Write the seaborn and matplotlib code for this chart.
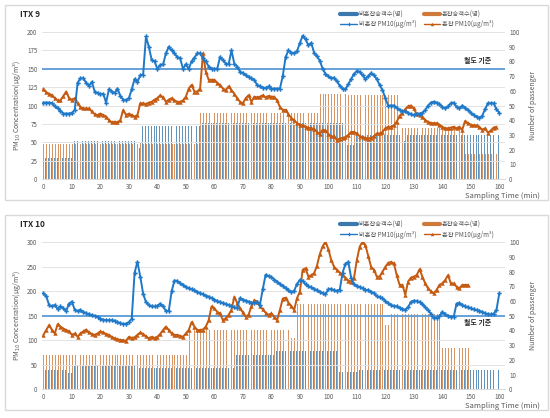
import numpy as np
import pandas as pd
import seaborn as sns
import matplotlib.pyplot as plt
from matplotlib.lines import Line2D
from matplotlib.patches import Rectangle

# ---- data ----
minutes = list(range(0, 161))
threshold = 150  # 철도 기준

# ITX 9 PM10 (ug/m3), one value per minute
itx9_nc_pm = [104, 104, 104, 103, 99, 96, 93, 89, 89, 89, 90, 94, 131, 137, 137, 131, 127, 132, 119, 117,
              115, 116, 104, 122, 119, 117, 123, 113, 108, 107, 110, 122, 136, 132, 141, 142, 194, 180, 162, 160,
              150, 155, 156, 171, 180, 175, 171, 166, 164, 150, 156, 150, 160, 165, 171, 171, 164, 160, 153, 150,
              150, 150, 166, 162, 157, 156, 175, 157, 153, 146, 144, 141, 139, 137, 135, 128, 126, 124, 124, 126,
              123, 123, 123, 123, 140, 166, 175, 172, 171, 174, 185, 195, 190, 182, 185, 172, 167, 161, 150, 143,
              140, 137, 138, 133, 127, 123, 122, 129, 136, 143, 147, 146, 141, 136, 140, 144, 141, 136, 128, 121,
              110, 100, 100, 100, 97, 94, 92, 92, 90, 88, 87, 89, 89, 90, 94, 100, 104, 105, 104, 102,
              98, 96, 99, 103, 104, 98, 96, 100, 97, 94, 90, 87, 85, 83, 86, 95, 103, 103, 103, 95, 90]
itx9_c_pm = [123, 118, 116, 114, 110, 107, 107, 113, 119, 110, 108, 110, 103, 98, 96, 96, 96, 92, 88, 87,
             89, 87, 85, 80, 77, 78, 77, 80, 94, 87, 89, 87, 85, 87, 103, 103, 102, 104, 105, 108,
             110, 114, 111, 105, 108, 110, 107, 105, 105, 107, 112, 123, 128, 119, 119, 123, 171, 146, 135, 135,
             135, 131, 128, 123, 121, 126, 121, 116, 110, 105, 103, 110, 114, 105, 112, 111, 112, 114, 111, 113,
             112, 112, 107, 98, 94, 94, 88, 83, 80, 76, 74, 73, 71, 70, 69, 68, 64, 61, 67, 66,
             61, 58, 58, 53, 55, 56, 57, 60, 64, 64, 62, 58, 57, 56, 55, 56, 58, 62, 62, 64,
             69, 71, 71, 73, 78, 86, 90, 95, 99, 100, 96, 88, 87, 85, 80, 78, 76, 76, 76, 74,
             71, 69, 69, 70, 71, 69, 71, 67, 79, 76, 74, 73, 73, 71, 67, 69, 63, 66, 70, 71]

# ITX 10 PM10 (ug/m3)
itx10_nc_pm = [196, 190, 172, 169, 172, 164, 169, 165, 160, 175, 179, 162, 160, 162, 158, 155, 153, 151, 150, 147,
               144, 142, 141, 141, 141, 140, 137, 135, 133, 134, 137, 144, 238, 260, 230, 195, 178, 172, 169, 169,
               170, 175, 169, 160, 160, 200, 222, 221, 216, 213, 209, 206, 204, 202, 199, 196, 194, 191, 189, 186,
               183, 180, 178, 176, 174, 172, 170, 167, 166, 186, 183, 181, 179, 177, 176, 179, 173, 205, 234, 231,
               229, 224, 220, 215, 211, 206, 203, 198, 201, 215, 223, 221, 214, 210, 208, 205, 202, 199, 196, 194,
               204, 205, 202, 201, 203, 238, 256, 260, 228, 214, 210, 209, 206, 202, 203, 199, 196, 190, 188, 186,
               180, 176, 172, 170, 169, 166, 164, 162, 168, 178, 181, 180, 178, 175, 167, 162, 154, 145, 146, 149,
               158, 153, 149, 148, 148, 175, 176, 172, 169, 167, 165, 163, 162, 160, 158, 155, 153, 153, 154, 162, 196]
itx10_c_pm = [111, 121, 131, 121, 114, 133, 128, 124, 121, 118, 111, 114, 107, 114, 118, 122, 116, 113, 111, 114,
              118, 116, 113, 111, 107, 104, 102, 101, 100, 99, 107, 105, 106, 111, 116, 113, 108, 104, 107, 105,
              107, 113, 121, 128, 121, 114, 111, 111, 109, 107, 114, 121, 137, 128, 121, 121, 122, 128, 141, 169,
              165, 158, 155, 141, 145, 152, 162, 189, 176, 165, 157, 148, 152, 169, 182, 179, 170, 163, 156, 152,
              155, 148, 141, 162, 185, 187, 177, 170, 162, 186, 199, 244, 247, 230, 233, 237, 252, 276, 292, 301,
              286, 264, 250, 244, 238, 233, 228, 222, 220, 227, 264, 291, 301, 294, 272, 250, 244, 230, 230, 240,
              250, 258, 260, 257, 233, 213, 213, 193, 220, 228, 230, 233, 245, 230, 216, 206, 200, 196, 203, 213,
              216, 223, 233, 216, 216, 209, 206, 213, 213, 213]

# passenger counts: level held until (and including) the given minute
itx9_nc_pass_levels = [14, 26, 21, 36, 38, 23, 30, 26, 30]
itx9_nc_pass_until = [10, 32, 34, 55, 106, 109, 125, 127, 160]
itx9_c_pass_levels = [24, 25, 24, 45, 58, 57, 35, 17]
itx9_c_pass_until = [33, 34, 54, 96, 106, 125, 147, 159]
itx10_nc_pass_levels = [13, 11, 16, 11, 14.5, 23, 26, 12, 13]
itx10_nc_pass_until = [8, 10, 32, 33, 67, 81, 103, 110, 160]
itx10_c_pass_levels = [23, 40, 35, 58, 44, 51, 28]
itx10_c_pass_until = [50, 86, 88, 119, 121, 139, 149]

nc_bar_name = "비혼잡승객수(명)"
c_bar_name = "혼잡승객수(명)"
nc_line_name = "비혼잡 PM10(μg/m³)"
c_line_name = "혼잡 PM10(μg/m³)"

blue = "#1f78c8"
orange = "#c55a11"
blue_bar = "#3a78ad"
orange_bar = "#cf7a3c"
ref_blue = "#5b9bd5"
grey = "#595959"


def expand(levels, until):
    counts = np.diff([-1] + until)
    return np.repeat(levels, counts)


def passenger_frame(nc_levels, nc_until, c_levels, c_until):
    nc = expand(nc_levels, nc_until)
    c = expand(c_levels, c_until)
    df_nc = pd.DataFrame({"t": minutes[:len(nc)], "p": nc, "group": nc_bar_name})
    df_c = pd.DataFrame({"t": minutes[:len(c)], "p": c, "group": c_bar_name})
    return pd.concat([df_nc, df_c], ignore_index=True)


sns.set_theme(style="white")
plt.rcParams["font.family"] = ["Noto Sans CJK KR", "DejaVu Sans"]
plt.rcParams["axes.unicode_minus"] = False

fig = plt.figure(figsize=(5.5, 4.18), dpi=100)


def draw_panel(bottom, title, nc_pm, c_pm, bars, ymax, ystep, label_y, label_va):
    axl = fig.add_axes([0.0758, bottom, 0.8424, 0.3516])
    axr = axl.twinx()
    axl.set_zorder(axr.get_zorder() + 1)
    axl.patch.set_visible(False)

    sns.barplot(data=bars, x="t", y="p", hue="group", hue_order=[nc_bar_name, c_bar_name],
                palette=[blue_bar, orange_bar], native_scale=True, width=0.62, saturation=1,
                errorbar=None, legend=False, linewidth=0, alpha=0.8, ax=axr)

    axl.axhline(threshold, color=ref_blue, lw=1.3, zorder=2)
    sns.lineplot(x=minutes[:len(nc_pm)], y=nc_pm, color=blue, lw=1.4, marker="P",
                 markersize=3.2, markeredgewidth=0, ax=axl, zorder=4)
    sns.lineplot(x=minutes[:len(c_pm)], y=c_pm, color=orange, lw=1.4, marker="^",
                 markersize=3.2, markeredgewidth=0, ax=axl, zorder=3)

    axl.set_xlim(-0.6, 162)
    axl.set_ylim(0, ymax)
    axl.set_yticks(np.arange(0, ymax + 1, ystep))
    axr.set_ylim(0, 100)
    axr.set_yticks(np.arange(0, 101, 10))
    axl.set_xticks(np.arange(0, 161, 10))
    axl.grid(axis="y", color="#e3e3e3", lw=0.7)
    axl.set_axisbelow(True)
    for a in (axl, axr):
        a.tick_params(length=0, labelsize=4.5, labelcolor=grey, pad=3)
        for s in a.spines.values():
            s.set_visible(False)
        a.set_xlabel("")
    axl.spines["bottom"].set_visible(True)
    axl.spines["bottom"].set_color("#d9d9d9")
    axl.spines["bottom"].set_linewidth(0.7)

    axl.set_ylabel("PM$_{10}$ Concentration(μg/m³)", fontsize=5, color=grey, labelpad=3)
    axr.set_ylabel("Number of passenger", fontsize=5, color=grey, labelpad=7)

    axl.text(152.5, label_y, "철도 기준", fontsize=5, fontweight="bold", color="#262626",
             ha="center", va=label_va)

    handles = [Line2D([], [], color=blue_bar, lw=3),
               Line2D([], [], color=blue, lw=1, marker="P", markersize=2.5, markeredgewidth=0),
               Line2D([], [], color=orange_bar, lw=3),
               Line2D([], [], color=orange, lw=1, marker="^", markersize=2.5, markeredgewidth=0)]
    labels = [nc_bar_name, nc_line_name, c_bar_name, c_line_name]
    axl.legend(handles, labels, ncol=2, loc="lower right", bbox_to_anchor=(0.985, 0.995),
               frameon=False, fontsize=4.5, labelcolor=grey, handlelength=2.6,
               columnspacing=1.2, handletextpad=0.3, labelspacing=0.35, borderpad=0.2)

    top_px = (1 - bottom - 0.3516) * 418
    fig.text(20 / 550, 1 - (top_px - 18) / 418, title, fontsize=6, fontweight="bold",
             color="#262626", ha="left", va="center")
    fig.text(540 / 550, bottom - 17 / 418, "Sampling Time (min)", fontsize=5.5,
             color=grey, ha="right", va="center")
    box_top = top_px - 27
    fig.patches.append(Rectangle((5 / 550, 1 - (box_top + 195) / 418), 543 / 550, 195 / 418,
                                 transform=fig.transFigure, fill=False, ec="#d9d9d9", lw=1))


bars9 = passenger_frame(itx9_nc_pass_levels, itx9_nc_pass_until, itx9_c_pass_levels, itx9_c_pass_until)
bars10 = passenger_frame(itx10_nc_pass_levels, itx10_nc_pass_until, itx10_c_pass_levels, itx10_c_pass_until)

draw_panel(0.5718, "ITX 9", itx9_nc_pm, itx9_c_pm, bars9, 200, 25, 156, "bottom")
draw_panel(0.0687, "ITX 10", itx10_nc_pm, itx10_c_pm, bars10, 300, 50, 143, "top")

fig.savefig("out.png", dpi=100)
